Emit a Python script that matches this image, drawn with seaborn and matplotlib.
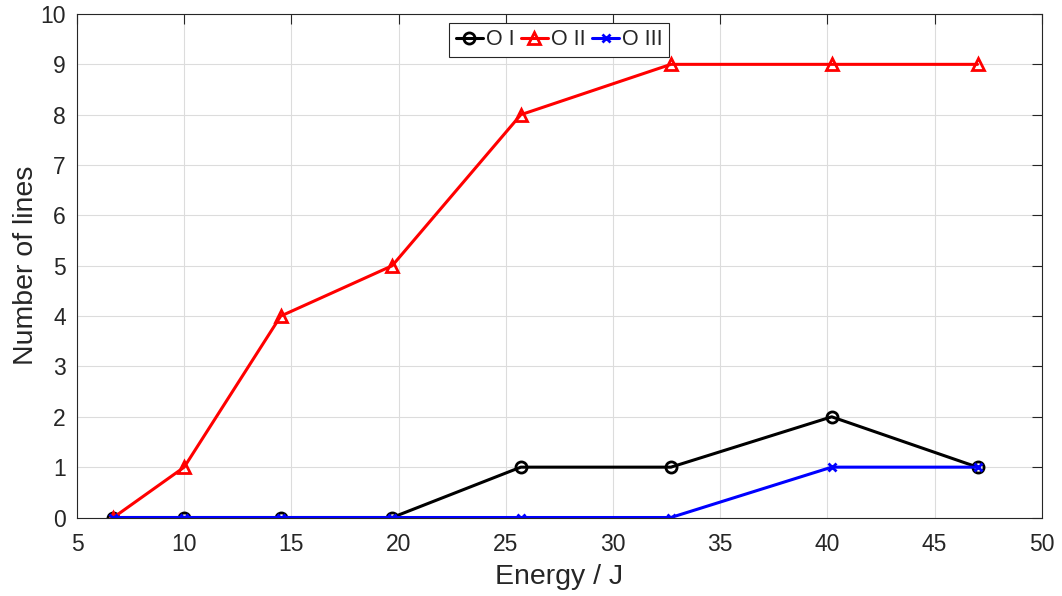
import matplotlib
matplotlib.use("Agg")
import matplotlib.pyplot as plt
import seaborn as sns
import pandas as pd

# Laser pulse energy and number of detected oxygen lines per ionisation stage
energy = [6.7, 10.0, 14.5, 19.7, 25.7, 32.7, 40.2, 47.0]
o_i = [0, 0, 0, 0, 1, 1, 2, 1]
o_ii = [0, 1, 4, 5, 8, 9, 9, 9]
o_iii = [0, 0, 0, 0, 0, 0, 1, 1]

series_names = ["O I", "O II", "O III"]
series_values = [o_i, o_ii, o_iii]
colors = ["black", "#ff0000", "#0000ff"]
markers = ["o", "^", "x"]
marker_sizes = [8, 9, 6]

sns.set_theme(style="whitegrid")
plt.rcParams["font.family"] = ["Liberation Sans", "DejaVu Sans"]

fig = plt.figure(figsize=(10.62, 5.96), dpi=100)
ax = fig.add_axes([0.0725, 0.1317, 0.9085, 0.8448])

dark = "#262626"
for name, vals, c, m, ms in zip(series_names, series_values, colors, markers, marker_sizes):
    df = pd.DataFrame({"Energy": energy, "Lines": vals})
    sns.lineplot(data=df, x="Energy", y="Lines", ax=ax, color=c, linewidth=2.2,
                 marker=m, markersize=ms, markerfacecolor="none",
                 markeredgecolor=c, markeredgewidth=2.0, label=name)

ax.set_xlim(5, 50)
ax.set_ylim(0, 10)
ax.set_xticks(range(5, 51, 5))
ax.set_yticks(range(0, 11, 1))
ax.set_xlabel("Energy / J", fontsize=20.5, color=dark, labelpad=6)
ax.set_ylabel("Number of lines", fontsize=20.5, color=dark, labelpad=1)

ax.set_facecolor("white")
ax.grid(True, color="#dcdcdc", linewidth=0.8)
for side in ["left", "right", "top", "bottom"]:
    ax.spines[side].set_visible(True)
    ax.spines[side].set_color(dark)
    ax.spines[side].set_linewidth(0.8)
ax.tick_params(axis="both", which="both", direction="in", length=7, width=0.8,
               colors=dark, labelsize=16.5, top=True, right=True,
               labeltop=False, labelright=False)
ax.tick_params(axis="x", pad=11)
ax.tick_params(axis="y", pad=8)

leg = ax.legend(loc="upper center", ncol=3, fontsize=15.5, frameon=True,
                fancybox=False, edgecolor=dark, framealpha=1,
                handlelength=1.25, handletextpad=0.15, columnspacing=0.3,
                borderpad=0.3, borderaxespad=0.4)
leg.get_frame().set_linewidth(0.8)

fig.savefig("out.png", dpi=100)
